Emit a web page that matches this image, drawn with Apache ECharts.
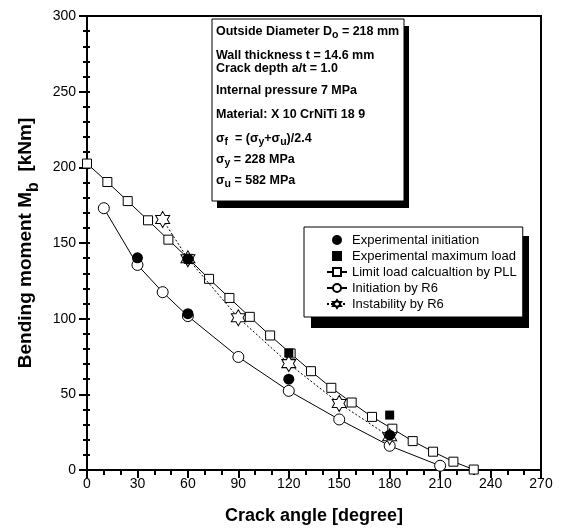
<!DOCTYPE html>
<html>
<head>
<meta charset="utf-8">
<script src="https://cdn.jsdelivr.net/npm/echarts@6/dist/echarts.min.js"></script>
<style>
  html, body { margin: 0; padding: 0; background: #fff; }
  #chart { width: 562px; height: 530px; }
</style>
</head>
<body>
<div id="chart"></div>
<script>
// Limit load calculation by PLL (open squares, solid line)
const pllAngle = [0, 12.1, 24.2, 36.3, 48.4, 60.5, 72.6, 84.7, 96.8, 108.9, 121.1, 133.2, 145.3, 157.4, 169.5, 181.6, 193.7, 205.8, 217.9, 230];
const pllMoment = [202.5, 190.3, 177.7, 165, 152.2, 139.5, 126.3, 113.7, 101.2, 88.9, 77, 65.3, 54.3, 44.6, 35.1, 27.3, 19.1, 12.1, 5.5, 0.3];

// Initiation by R6 (open circles, solid line)
const r6InitAngle = [10, 30, 45, 60, 90, 120, 150, 180, 210];
const r6InitMoment = [173, 135.5, 117.5, 101.7, 74.7, 52.3, 33.4, 16, 2.8];

// Instability by R6 (open stars, dotted line)
const r6InstAngle = [45, 60, 90, 120, 150, 180];
const r6InstMoment = [165.5, 139.6, 100.6, 70.3, 44, 22];

// Experimental initiation (filled circles)
const expInitAngle = [30, 60, 60, 120, 180];
const expInitMoment = [140.2, 139.5, 103.3, 60, 23];

// Experimental maximum load (filled squares)
const expMaxAngle = [120, 180];
const expMaxMoment = [77.3, 36.3];

// Axis ticks
const xTicks = [0, 30, 60, 90, 120, 150, 180, 210, 240, 270];
const yTicks = [0, 50, 100, 150, 200, 250, 300];

const seriesNames = [
  'Experimental initiation',
  'Experimental maximum load',
  'Limit load calcualtion by PLL',
  'Initiation by R6',
  'Instability by R6'
];

const pairs = (xs, ys) => xs.map((x, i) => [x, ys[i]]);

const FONT = '"Liberation Sans", Arial, Helvetica, sans-serif';
const starPath = 'path://M0,-10 L2.887,-5 L8.66,-5 L5.774,0 L8.66,5 L2.887,5 L0,10 L-2.887,5 L-8.66,5 L-5.774,0 L-8.66,-5 L-2.887,-5 Z';
const squareIcon = 'path://M0,0 L8,0 L8,8 L0,8 Z';

const chart = echarts.init(document.getElementById('chart'), null, { renderer: 'canvas' });

// Parameter box lines (left edge x, vertical centre y)
const boxLines = [
  { y: 32, text: 'Outside Diameter D{s|o} = 218 mm' },
  { y: 56, text: 'Wall thickness t = 14.6 mm' },
  { y: 69, text: 'Crack depth a/t = 1.0' },
  { y: 91, text: 'Internal pressure 7 MPa' },
  { y: 115, text: 'Material: X 10 CrNiTi 18 9' },
  { y: 139, text: 'σ{s|f}  = (σ{s|y}+σ{s|u})/2.4' },
  { y: 160, text: 'σ{s|y} = 228 MPa' },
  { y: 181, text: 'σ{s|u} = 582 MPa' }
];

const boxText = boxLines.map(l => ({
  type: 'text',
  left: 216,
  top: l.y - 7,
  z: 20,
  style: {
    text: l.text,
    font: 'bold 12.5px ' + FONT,
    fill: '#000',
    rich: {
      s: { fontSize: 10.5, fontWeight: 'bold', fontFamily: FONT, fill: '#000', padding: [8, 0, 0, 0] }
    }
  }
}));

const tickStyle = { color: '#000', width: 2 };

const option = {
  backgroundColor: '#fff',
  animation: false,
  textStyle: { fontFamily: FONT },
  grid: {
    left: 87, right: 21, top: 16, bottom: 60,
    show: true, borderColor: '#000', borderWidth: 2, backgroundColor: 'transparent'
  },
  xAxis: {
    type: 'value',
    min: xTicks[0], max: xTicks[xTicks.length - 1], interval: 30,
    name: 'Crack angle [degree]',
    nameLocation: 'middle',
    nameGap: 37,
    nameTextStyle: { fontSize: 18, fontWeight: 'bold', color: '#000', fontFamily: FONT },
    axisLine: { lineStyle: { color: '#000', width: 2 } },
    axisTick: { length: 8, lineStyle: tickStyle },
    minorTick: { show: true, splitNumber: 3, length: 5, lineStyle: tickStyle },
    axisLabel: { fontSize: 14, color: '#000', margin: 7, fontFamily: FONT },
    splitLine: { show: false }
  },
  yAxis: [
    {
      type: 'value',
      min: yTicks[0], max: yTicks[yTicks.length - 1], interval: 50,
      name: '{m|Bending moment M}{b|b}{m|  [kNm]}',
      nameLocation: 'middle',
      nameGap: 41,
      nameRotate: 90,
      nameTextStyle: {
        fontSize: 19, fontWeight: 'bold', color: '#000', fontFamily: FONT,
        rich: {
          m: { fontSize: 19, fontWeight: 'bold', color: '#000', fontFamily: FONT, lineHeight: 21, verticalAlign: 'top' },
          b: { fontSize: 16, fontWeight: 'bold', color: '#000', fontFamily: FONT, padding: [9, 0, 0, 0] }
        }
      },
      axisLine: { lineStyle: { color: '#000', width: 2 } },
      axisTick: { length: 8, lineStyle: tickStyle },
      minorTick: { show: true, splitNumber: 5, length: 4, lineStyle: tickStyle },
      axisLabel: { fontSize: 14, color: '#000', margin: 11, fontFamily: FONT },
      splitLine: { show: false }
    },
    {
      // inner half of the crossing ticks on the moment axis
      type: 'value',
      position: 'left',
      min: yTicks[0], max: yTicks[yTicks.length - 1], interval: 50,
      axisLine: { show: false },
      axisTick: { show: true, inside: true, length: 3, lineStyle: tickStyle },
      minorTick: { show: true, splitNumber: 5, length: 3, lineStyle: tickStyle },
      axisLabel: { show: false },
      splitLine: { show: false }
    }
  ],
  legend: {
    orient: 'vertical',
    left: 304,
    top: 227,
    z: 10,
    data: [
      { name: seriesNames[0] },
      { name: seriesNames[1], icon: squareIcon },
      { name: seriesNames[2] },
      { name: seriesNames[3] },
      { name: seriesNames[4] }
    ],
    backgroundColor: '#fff',
    borderColor: '#000',
    borderWidth: 1,
    padding: [5, 6, 5, 22],
    itemGap: 0,
    itemWidth: 20,
    itemHeight: 10,
    textStyle: { fontSize: 13, color: '#000', lineHeight: 16, fontFamily: FONT }
  },
  graphic: [
    // drop shadows of the parameter box and the legend
    { type: 'rect', shape: { x: 217, y: 26, width: 192, height: 182 }, style: { fill: '#000' }, z: 18 },
    { type: 'rect', shape: { x: 212, y: 19, width: 192, height: 182 }, style: { fill: '#fff', stroke: '#000', lineWidth: 1 }, z: 19 },
    { type: 'rect', shape: { x: 311, y: 236, width: 218, height: 92 }, style: { fill: '#000' }, z: 3 }
  ].concat(boxText),
  series: [
    {
      name: seriesNames[2],
      type: 'line',
      data: pairs(pllAngle, pllMoment),
      symbol: 'rect',
      symbolSize: 9,
      lineStyle: { color: '#000', width: 1 },
      itemStyle: { color: '#fff', borderColor: '#000', borderWidth: 1 },
      z: 2
    },
    {
      name: seriesNames[3],
      type: 'line',
      data: pairs(r6InitAngle, r6InitMoment),
      symbol: 'circle',
      symbolSize: 11,
      lineStyle: { color: '#000', width: 1 },
      itemStyle: { color: '#fff', borderColor: '#000', borderWidth: 1 },
      z: 2
    },
    {
      name: seriesNames[4],
      type: 'line',
      data: pairs(r6InstAngle, r6InstMoment),
      symbol: starPath,
      symbolSize: [14, 16],
      lineStyle: { color: '#000', width: 1, type: [2, 2] },
      itemStyle: { color: '#fff', borderColor: '#000', borderWidth: 1 },
      z: 3
    },
    {
      name: seriesNames[0],
      type: 'scatter',
      data: pairs(expInitAngle, expInitMoment),
      symbol: 'circle',
      symbolSize: 11,
      itemStyle: { color: '#000', opacity: 1 },
      z: 5
    },
    {
      name: seriesNames[1],
      type: 'scatter',
      data: pairs(expMaxAngle, expMaxMoment),
      symbol: 'rect',
      symbolSize: 9,
      itemStyle: { color: '#000', opacity: 1 },
      z: 5
    }
  ]
};

chart.setOption(option);
</script>
</body>
</html>
